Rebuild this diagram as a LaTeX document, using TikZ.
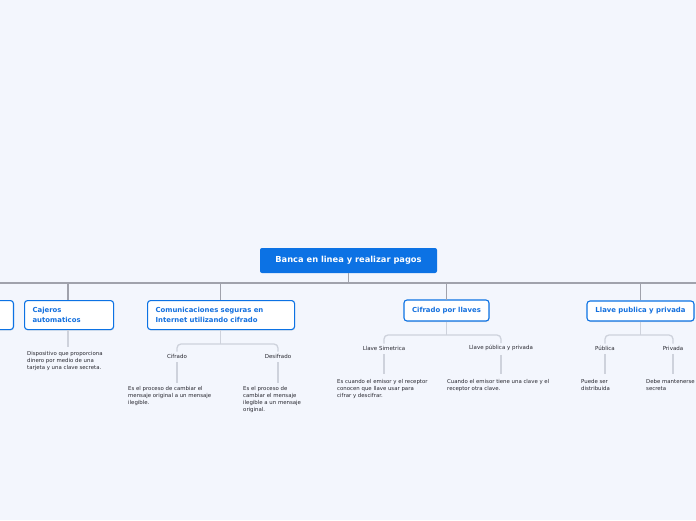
\documentclass[tikz,border=0pt]{standalone}
\usepackage{fontspec}
\setmainfont{DejaVu Sans}
\usetikzlibrary{positioning,calc,shadows}
\definecolor{paper}{RGB}{243,246,253}
\definecolor{mapblue}{RGB}{12,114,228}
\definecolor{topicblue}{RGB}{20,112,222}
\definecolor{trunk}{RGB}{160,162,172}
\definecolor{twig}{RGB}{206,210,220}
\definecolor{note}{RGB}{40,40,48}

\tikzset{
  rootbox/.style={fill=mapblue,text=white,rounded corners=2pt,font=\fontsize{8.3}{10}\bfseries\selectfont,
    minimum width=177pt,minimum height=25pt,inner sep=0pt},
  topicbox/.style={draw=mapblue,fill=white,line width=1.1pt,rounded corners=3pt,text=topicblue,
    font=\fontsize{6.9}{9.5}\bfseries\selectfont,inner xsep=8pt,
    drop shadow={opacity=0.18,shadow xshift=0.6pt,shadow yshift=-1pt}},
  sublabel/.style={text=note,font=\fontsize{5.5}{7}\selectfont,inner sep=0pt},
  notetext/.style={text=note,font=\fontsize{5.4}{7}\selectfont,align=left,inner sep=0pt,anchor=north west},
  trunkline/.style={draw=trunk,line width=1.3pt},
  twigline/.style={draw=twig,line width=1.3pt,rounded corners=4pt}
}

\begin{document}
\begin{tikzpicture}[x=1pt,y=-1pt]
\fill[paper] (0,0) rectangle (696,520);
\useasboundingbox (0,0) rectangle (696,520);

\node[rootbox] (root) at (348.5,260.5) {Banca en linea y realizar pagos};

% first level
\node[topicbox,anchor=north east,minimum width=100pt,minimum height=29pt] (hidden) at (14,300) {};
\node[topicbox,anchor=north west,text width=73pt,align=left,minimum height=29pt] (cajeros) at (24,300)
  {Cajeros\\automaticos};
\node[topicbox,anchor=north west,text width=131pt,align=left,minimum height=29pt] (comunic) at (147,300)
  {Comunicaciones seguras en\\Internet utilizando cifrado};
\node[topicbox,minimum width=85pt,minimum height=21pt] (llaves) at (446.5,310.5) {Cifrado por llaves};
\node[topicbox,minimum width=107pt,minimum height=20pt] (pubpriv) at (640.5,311) {Llave publica y privada};

\coordinate (barL) at (0,283);
\coordinate (barR) at (696,283);
\draw[trunkline] (barL) -- (barR);
\draw[trunkline] (root.south) -- (root.south |- barL);
\foreach \x in {68,220.5,446.5,640.5}
  \draw[trunkline] (\x,283) -- (\x,300);

% cajeros
\node[notetext] (cajdesc) at (27,351) {Dispositivo que proporciona\\dinero por medio de una\\tarjeta y una clave secreta.};
\draw[twigline] (cajeros.south -| 68,0) -- (68,347);

% comunicaciones
\coordinate (comsplit) at (220.5,344);
\node[sublabel] (cifrado) at (177,356) {Cifrado};
\node[sublabel] (desifrado) at (278,356) {Desifrado};
\draw[twigline] (comunic.south -| comsplit) -- (comsplit);
\draw[twigline] ([yshift=2pt]cifrado.north) |- (comsplit) -| ([yshift=2pt]desifrado.north);
\node[notetext] (cifdesc) at (128,386) {Es el proceso de cambiar el\\mensaje original a un mensaje\\ilegible.};
\node[notetext] (desdesc) at (243,386) {Es el proceso de\\cambiar el mensaje\\ilegible a un mensaje\\original.};
\draw[twigline] ([yshift=-4pt]cifrado.south) -- ([yshift=3pt]cifrado.south |- cifdesc.north);
\draw[twigline] ([yshift=-4pt]desifrado.south) -- ([yshift=3pt]desifrado.south |- desdesc.north);

% cifrado por llaves
\coordinate (llasplit) at (446.5,335);
\node[sublabel] (simetrica) at (384,348) {Llave Simetrica};
\node[sublabel] (pubypriv) at (501,348) {Llave pública y privada};
\draw[twigline] (llaves.south) -- (llasplit);
\draw[twigline] ([yshift=2pt]simetrica.north) |- (llasplit) -| ([yshift=2pt]pubypriv.north);
\node[notetext] (simdesc) at (337,379) {Es cuando el emisor y el receptor\\conocen que llave usar para\\cifrar y descifrar.};
\node[notetext] (pypdesc) at (447,379) {Cuando el emisor tiene una clave y el\\receptor otra clave.};
\draw[twigline] ([yshift=-4pt]simetrica.south) -- ([yshift=5pt]simetrica.south |- simdesc.north);
\draw[twigline] ([yshift=-4pt]pubypriv.south) -- ([yshift=5pt]pubypriv.south |- pypdesc.north);

% llave publica y privada
\coordinate (pubsplit) at (640.5,335);
\node[sublabel] (publica) at (605,348) {Pública};
\node[sublabel] (privada) at (673,348) {Privada};
\draw[twigline] (pubpriv.south) -- (pubsplit);
\draw[twigline] ([yshift=2pt]publica.north) |- (pubsplit) -| ([yshift=2pt]privada.north);
\node[notetext] (pubdesc) at (581,379) {Puede ser\\distribuida};
\node[notetext] (privdesc) at (646,379) {Debe mantenerse\\secreta};
\draw[twigline] ([yshift=-4pt]publica.south) -- ([yshift=5pt]publica.south |- pubdesc.north);
\draw[twigline] ([yshift=-4pt]privada.south) -- ([yshift=5pt]privada.south |- privdesc.north);
\end{tikzpicture}
\end{document}
